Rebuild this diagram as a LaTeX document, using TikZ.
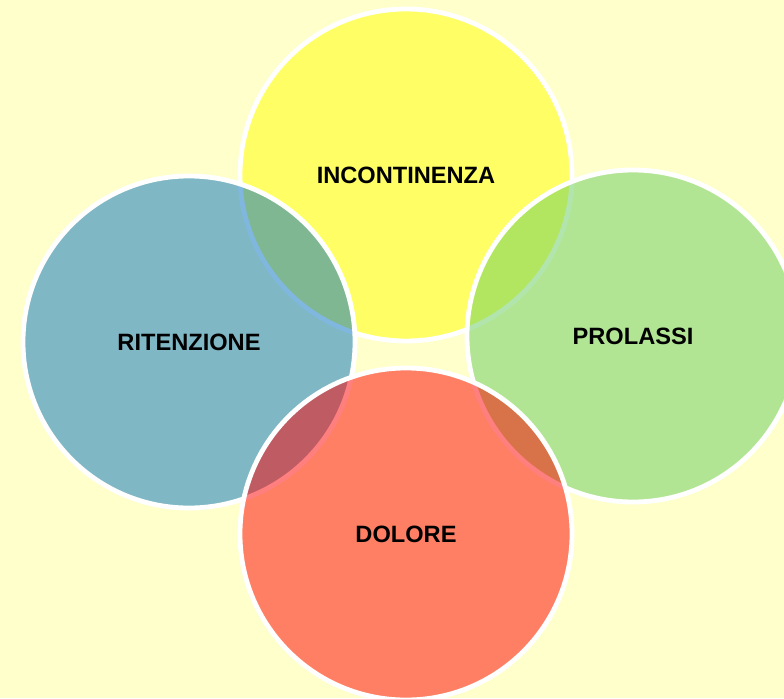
\documentclass[tikz,border=0pt]{standalone}
\usepackage{fontspec}
\setmainfont{Liberation Sans}
\usepackage{xcolor}
\usetikzlibrary{positioning}
\definecolor{pagebg}{HTML}{FFFFCC}
\definecolor{vyellow}{HTML}{FFFF00}
\definecolor{vgreen}{HTML}{67CD5C}
\definecolor{vblue}{HTML}{0070C0}
\definecolor{vred}{HTML}{FF0000}

\begin{document}
\begin{tikzpicture}[
  every node/.style={font=\fontsize{16.8}{20}\selectfont\bfseries},
  bubble/.style={circle, draw=white, line width=3.4pt, fill=#1, fill opacity=0.5, text opacity=1, minimum size=8.3cm, inner sep=0pt, text=black},
]

% Background
\fill[pagebg] (0,0) rectangle (19.6,17.45);
\clip (0,0) rectangle (19.6,17.45);

% Circles, back to front
\node[bubble=vyellow] (incont) at (10.15, 13.075) {INCONTINENZA};
\node[bubble=vgreen] (prol) at (15.825, 9.05) {PROLASSI};
\node[bubble=vblue] (riten) at (4.725, 8.9) {RITENZIONE};
\node[bubble=vred] (dolore) at (10.15, 4.1) {DOLORE};

\end{tikzpicture}
\end{document}
